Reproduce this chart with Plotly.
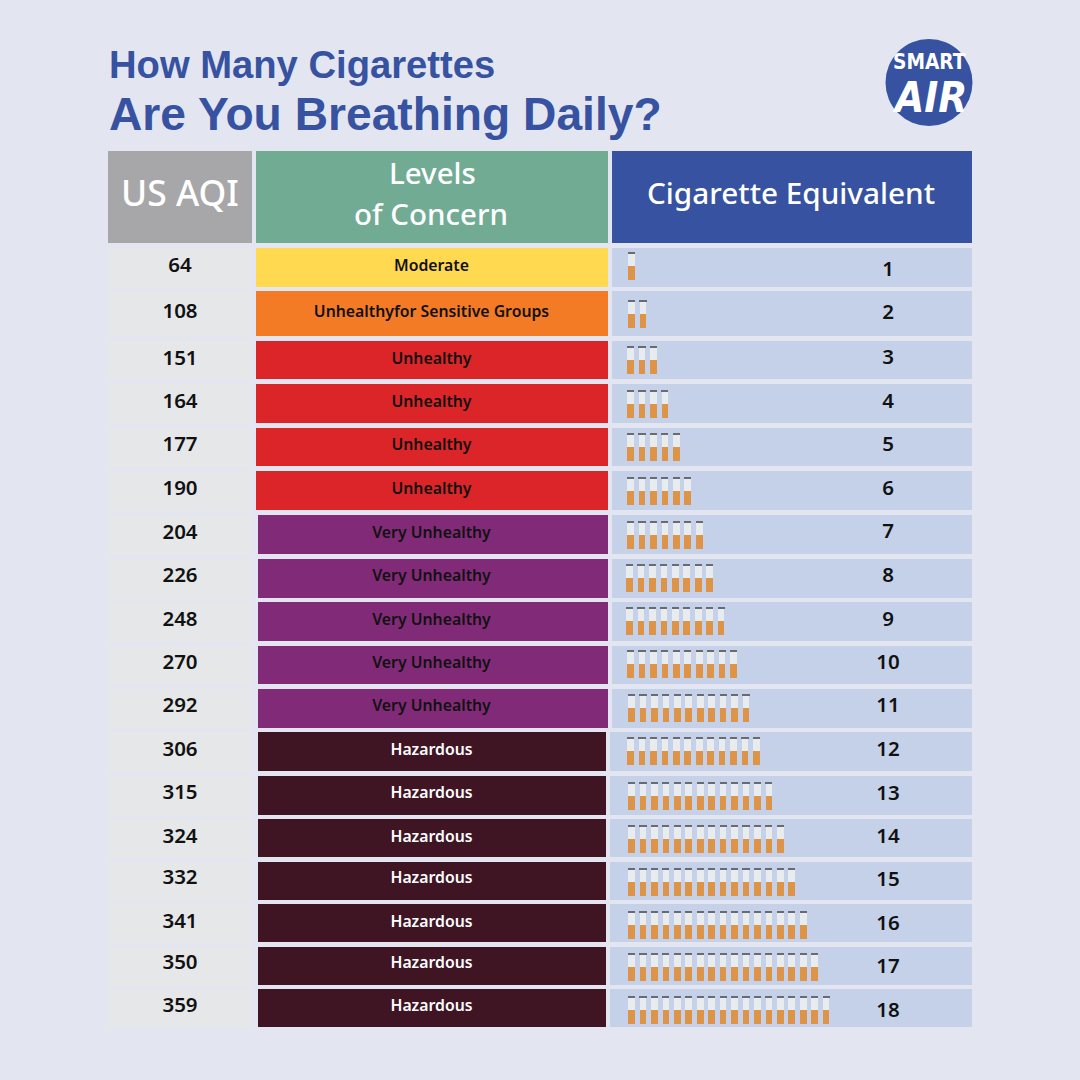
import plotly.graph_objects as go

# table content
aqi = [64, 108, 151, 164, 177, 190, 204, 226, 248, 270, 292, 306, 315, 324, 332, 341, 350, 359]
concern = ["Moderate", "Unhealthyfor Sensitive Groups"] + ["Unhealthy"] * 4 + ["Very Unhealthy"] * 5 + ["Hazardous"] * 7
cigarettes = [1, 2, 3, 4, 5, 6, 7, 8, 9, 10, 11, 12, 13, 14, 15, 16, 17, 18]

# row geometry, in picture pixels
row_top = [248, 291, 341, 384, 428, 471, 515, 559, 602, 646, 689, 732, 776, 819, 862, 904, 947, 989]
row_bottom = [287, 336, 379, 423, 466, 510, 554, 598, 641, 684, 728, 771, 815, 857, 900, 942, 985, 1027]
aqi_text_y = [267, 313, 360, 403, 446, 490, 534, 577, 621, 664, 707, 751, 794, 838, 879, 923, 964, 1007]
count_text_y = [271, 314, 359, 403, 446, 490, 533, 577, 621, 664, 707, 751, 795, 838, 881, 925, 968, 1012]
cig_top = [252, 300, 346, 390, 433, 477, 521, 564, 607, 650, 694, 737, 782, 825, 868, 911, 953, 996]
cig_left = [628, 628, 627, 627, 627, 627, 627, 626, 626, 627, 628, 627, 628, 628, 628, 628, 628, 628]

level_colors = {
    "Moderate": "#FFD94F",
    "Unhealthyfor Sensitive Groups": "#F47B26",
    "Unhealthy": "#DC2528",
    "Very Unhealthy": "#812B78",
    "Hazardous": "#3F1423",
}
level_edges = {
    "Moderate": (256, 608),
    "Unhealthyfor Sensitive Groups": (256, 608),
    "Unhealthy": (256, 608),
    "Very Unhealthy": (258, 608),
    "Hazardous": (258, 606),
}

BG = "#E3E6F1"
BLUE = "#3652A0"
CIG_STEP = 11.45
CIG_FIRST = 631.5
HEAD = "Noto Sans"
LOGO = "DejaVu Sans Condensed"


def cell_bar(lefts, rights, tops, bottoms, colors):
    return go.Bar(
        x=[(l + r) / 2 for l, r in zip(lefts, rights)],
        width=[r - l for l, r in zip(lefts, rights)],
        base=tops,
        y=[b - t for t, b in zip(tops, bottoms)],
        marker=dict(color=colors, line_width=0),
        hoverinfo="skip",
    )


def cig_bar(from_top, to_top, color, width=0.58):
    xs, bases, heights = [], [], []
    for count, top, left in zip(cigarettes, cig_top, cig_left):
        for i in range(count):
            xs.append(i + 1 + (left - 628) / CIG_STEP)
            bases.append(top + from_top)
            heights.append(to_top - from_top)
    return go.Bar(
        x=xs, base=bases, y=heights, width=width, xaxis="x2",
        marker=dict(color=color, line_width=0), hoverinfo="skip",
    )


fig = go.Figure()

# header cells
fig.add_trace(cell_bar([108, 256, 612], [252, 608, 972], [151] * 3, [243] * 3, ["#A7A7A9", "#71AB94", BLUE]))

# body columns
n = len(aqi)
fig.add_trace(cell_bar([108] * n, [252] * n, row_top, [b + 1 for b in row_bottom], ["#E6E7E8"] * n))
fig.add_trace(cell_bar(
    [level_edges[c][0] for c in concern], [level_edges[c][1] for c in concern],
    row_top, row_bottom, [level_colors[c] for c in concern],
))
fig.add_trace(cell_bar(
    [level_edges[c][1] + 4 for c in concern], [972] * n,
    row_top, row_bottom, ["#C5D1E8"] * n,
))

# cigarettes: paper, filter, burnt tip
fig.add_trace(cig_bar(1.5, 13.5, "#E9ECEF"))
fig.add_trace(cig_bar(14, 28, "#DE9446"))
fig.add_trace(cig_bar(0, 1.3, "#6A6B70", width=0.62))

# cell text
fig.add_trace(go.Scatter(
    x=[180] * n, y=aqi_text_y, mode="text", text=[str(v) for v in aqi],
    textfont=dict(family=HEAD, size=20.5, color="#111111", weight=600), hoverinfo="skip",
))
fig.add_trace(go.Scatter(
    x=[431.5] * n, y=aqi_text_y, mode="text", text=concern,
    textfont=dict(
        family=HEAD, size=15.8, weight=600,
        color=["#FFFFFF" if c == "Hazardous" else "#111111" for c in concern],
    ),
    hoverinfo="skip",
))
fig.add_trace(go.Scatter(
    x=[888] * n, y=count_text_y, mode="text", text=[str(v) for v in cigarettes],
    textfont=dict(family=HEAD, size=20.5, color="#111111", weight=600), hoverinfo="skip",
))

fig.update_layout(
    width=1080, height=1080,
    margin=dict(l=0, r=0, t=0, b=0),
    paper_bgcolor=BG, plot_bgcolor=BG,
    barmode="overlay", bargap=0,
    showlegend=False,
    xaxis=dict(range=[0, 1080], visible=False, fixedrange=True),
    xaxis2=dict(
        range=[1 - CIG_FIRST / CIG_STEP, 1 + (1080 - CIG_FIRST) / CIG_STEP],
        overlaying="x", visible=False, fixedrange=True,
    ),
    yaxis=dict(range=[1080, 0], visible=False, fixedrange=True),
)

# logo disc
fig.add_shape(type="circle", x0=885.5, x1=972.5, y0=39, y1=126, fillcolor=BLUE, line_width=0, layer="above")


def label(text, x, y, size, family=HEAD, color="#FFFFFF", anchor="center", **font):
    fig.add_annotation(
        x=x, y=y, text=text, showarrow=False, xanchor=anchor, yanchor="middle",
        font=dict(family=family, size=size, color=color, **font),
    )


label("How Many Cigarettes", 107, 64, 38.2, family="Liberation Sans", color=BLUE, anchor="left", weight=700)
label("Are You Breathing Daily?", 107, 114, 46.2, family="Liberation Sans", color=BLUE, anchor="left", weight=700)
label("US AQI", 180, 192, 35.5, weight=500)
label("Levels", 432, 172, 29.5, weight=500)
label("of Concern", 431, 213, 29.5, weight=500)
label("Cigarette Equivalent", 791, 192, 29.7, weight=500)
label("SMART", 929, 62, 20.7, family=LOGO, weight=700)
label("AIR", 929, 97, 42, family=LOGO, style="italic", weight=700)

fig.write_html("out.html", config=dict(displayModeBar=False), post_script="document.body.style.margin = '0';")
